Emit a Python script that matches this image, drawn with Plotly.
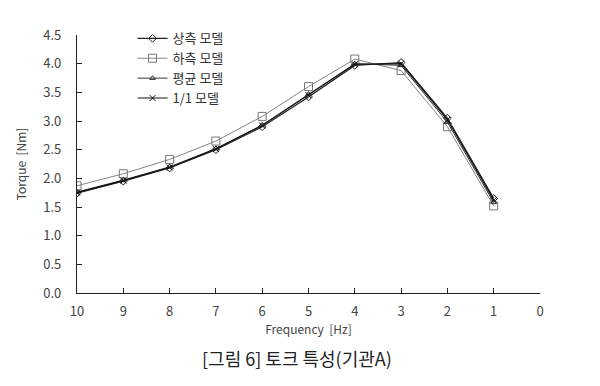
import plotly.graph_objects as go

freq = [10, 9, 8, 7, 6, 5, 4, 3, 2, 1]
upper = [1.74, 1.95, 2.18, 2.50, 2.90, 3.42, 3.97, 4.02, 3.05, 1.65]
lower = [1.87, 2.08, 2.33, 2.65, 3.08, 3.60, 4.08, 3.88, 2.90, 1.52]
avg = [1.76, 1.97, 2.20, 2.52, 2.93, 3.47, 4.00, 3.97, 2.98, 1.58]
one = [1.75, 1.96, 2.19, 2.51, 2.92, 3.45, 3.99, 4.00, 3.02, 1.62]
names = ["상측 모델", "하측 모델", "평균 모델", "1/1 모델"]
xticks = [10, 9, 8, 7, 6, 5, 4, 3, 2, 1, 0]
yticks = [0.0, 0.5, 1.0, 1.5, 2.0, 2.5, 3.0, 3.5, 4.0, 4.5]

font = "Noto Sans CJK KR"
fig = go.Figure()
specs = [
    (upper, "diamond-open", "#222", 1.2, 6),
    (lower, "square-open", "#777", 0.9, 8),
    (avg, "triangle-up-open", "#333", 1.0, 5),
    (one, "x-thin-open", "#111", 1.1, 6),
]
for (vals, sym, col, w, sz), nm in zip(specs, names):
    fig.add_trace(go.Scatter(
        x=freq, y=vals, name=nm, mode="lines+markers",
        line=dict(color=col, width=w),
        marker=dict(symbol=sym, size=sz, color=col, line=dict(color=col, width=1)),
    ))

fig.update_layout(
    width=600, height=386,
    margin=dict(l=77, r=60, t=35, b=93),
    paper_bgcolor="white", plot_bgcolor="white",
    font=dict(family=font, size=13, color="#444"),
    showlegend=True,
    legend=dict(x=0.12, y=1.045, xanchor="left", yanchor="top",
                bgcolor="rgba(0,0,0,0)", font=dict(size=13, color="#333"),
                tracegroupgap=0, itemwidth=30),
    xaxis=dict(range=[10, 0], tickvals=xticks, ticks="inside", ticklen=5,
               showline=True, linecolor="#222", linewidth=1.2, tickcolor="#222",
               showgrid=False, zeroline=False, ticklabelstandoff=6, automargin=False,
               title=dict(text="Frequency  [Hz]", font=dict(size=12, color="#444"), standoff=6)),
    yaxis=dict(range=[0, 4.5], tickvals=yticks, tickformat=".1f", ticks="inside", ticklen=5,
               showline=True, linecolor="#222", linewidth=1.2, tickcolor="#222",
               showgrid=False, zeroline=False, ticklabelstandoff=12, automargin=False,
               title=dict(text="Torque  [Nm]", font=dict(size=12, color="#444"), standoff=14)),
)
fig.add_annotation(text="[그림 6] 토크 특성(기관A)", xref="paper", yref="paper",
                   x=0.475, y=-0.252, xanchor="center", yanchor="middle", showarrow=False,
                   font=dict(size=18, color="#222", family=font))
fig.write_html("out.html", post_script="document.body.style.margin='0';",
               config={"displayModeBar": False})
